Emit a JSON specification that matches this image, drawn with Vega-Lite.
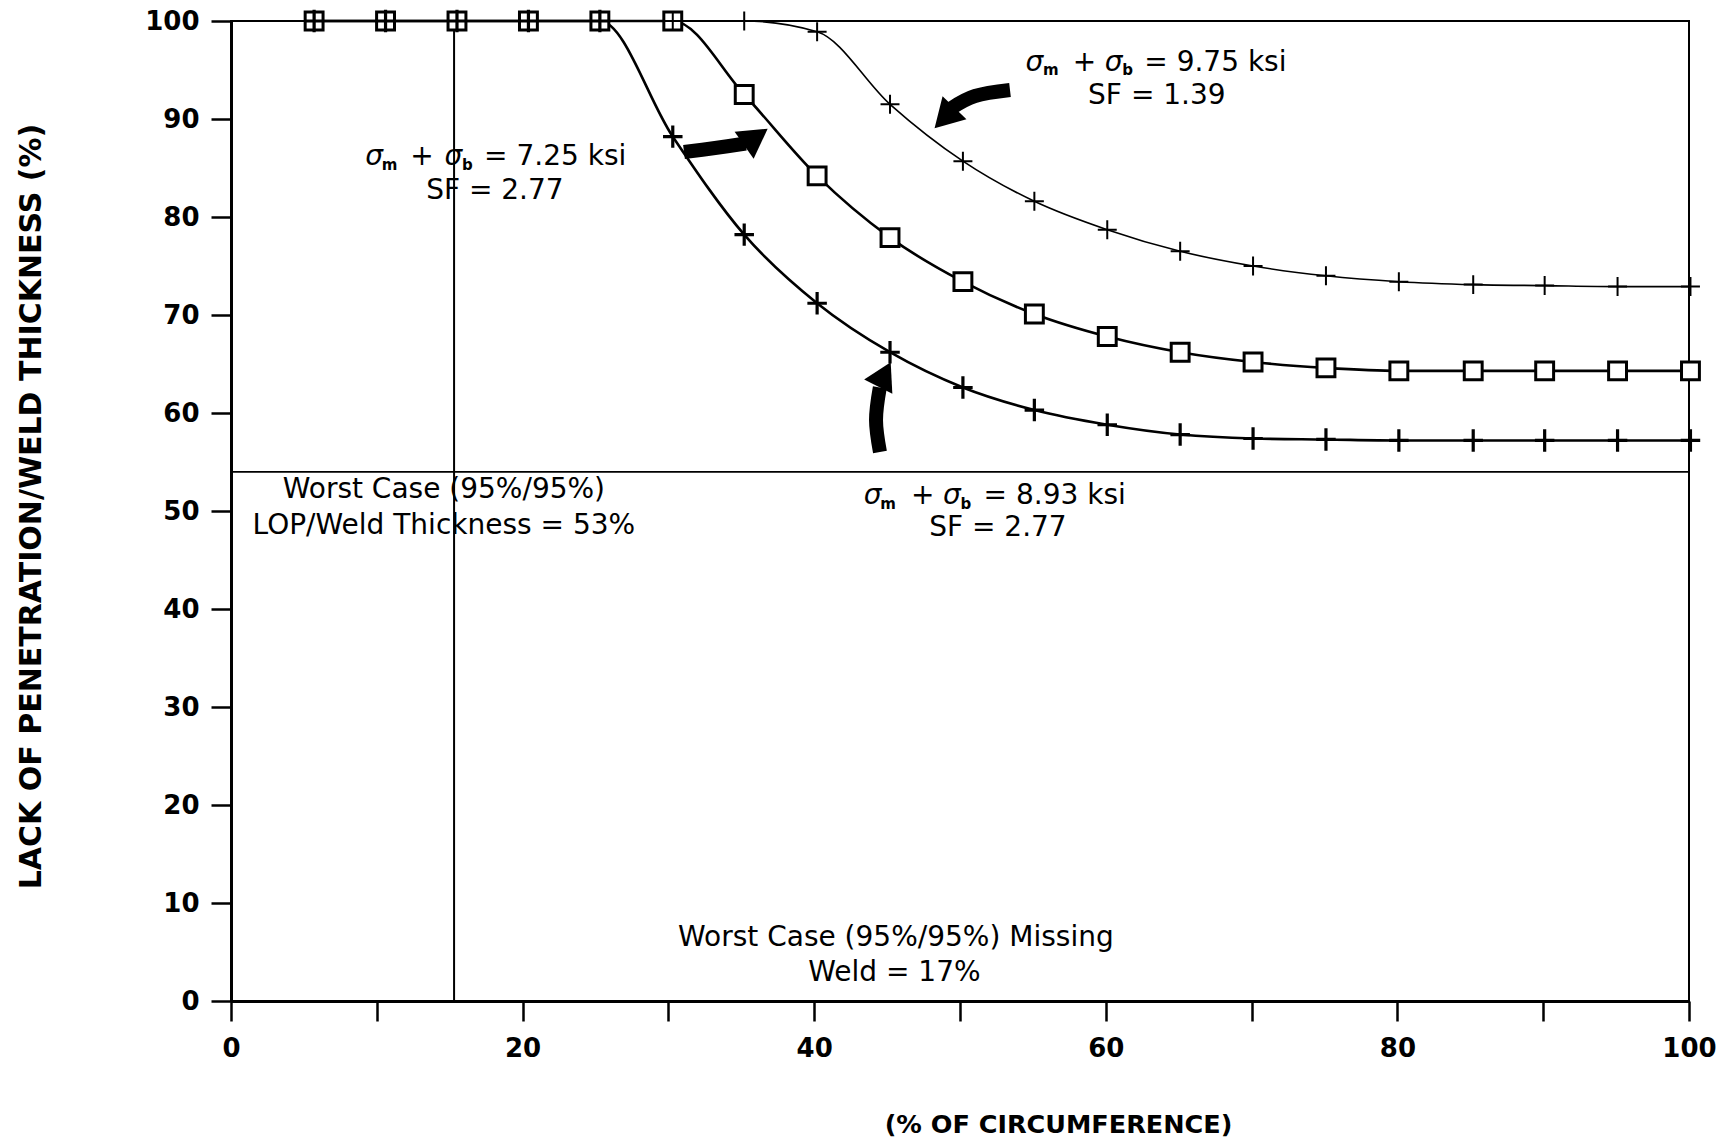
{
  "$schema": "https://vega.github.io/schema/vega-lite/v6.json",
  "width": 1458,
  "height": 980,
  "autosize": "none",
  "padding": {"left": 231, "top": 21, "right": 36, "bottom": 142},
  "background": "white",
  "config": {
    "view": {"stroke": "black", "strokeWidth": 2},
    "font": "DejaVu Sans",
    "axis": {
      "grid": false,
      "domainColor": "black",
      "domainWidth": 3,
      "tickColor": "black",
      "tickWidth": 2.5,
      "tickSize": 20,
      "labelColor": "black",
      "labelFont": "DejaVu Sans",
      "labelFontWeight": "bold",
      "labelFontSize": 26,
      "labelFlush": false,
      "titleColor": "black",
      "titleFont": "DejaVu Sans",
      "titleFontWeight": "bold"
    }
  },
  "datasets": {
    "curves": [
      {"series": "7.25", "x": 5.7, "y": 100}, {"series": "7.25", "x": 10.6, "y": 100}, {"series": "7.25", "x": 15.5, "y": 100},
      {"series": "7.25", "x": 20.4, "y": 100}, {"series": "7.25", "x": 25.3, "y": 100}, {"series": "7.25", "x": 30.3, "y": 100},
      {"series": "7.25", "x": 35.2, "y": 92.5}, {"series": "7.25", "x": 40.2, "y": 84.2}, {"series": "7.25", "x": 45.2, "y": 77.9},
      {"series": "7.25", "x": 50.2, "y": 73.4}, {"series": "7.25", "x": 55.1, "y": 70.1}, {"series": "7.25", "x": 60.1, "y": 67.8},
      {"series": "7.25", "x": 65.1, "y": 66.2}, {"series": "7.25", "x": 70.1, "y": 65.2}, {"series": "7.25", "x": 75.1, "y": 64.6},
      {"series": "7.25", "x": 80.1, "y": 64.3}, {"series": "7.25", "x": 85.2, "y": 64.3}, {"series": "7.25", "x": 90.1, "y": 64.3},
      {"series": "7.25", "x": 95.1, "y": 64.3}, {"series": "7.25", "x": 100.1, "y": 64.3},
      {"series": "8.93", "x": 5.7, "y": 100}, {"series": "8.93", "x": 10.6, "y": 100}, {"series": "8.93", "x": 15.5, "y": 100},
      {"series": "8.93", "x": 20.4, "y": 100}, {"series": "8.93", "x": 25.3, "y": 100}, {"series": "8.93", "x": 30.3, "y": 88.2},
      {"series": "8.93", "x": 35.2, "y": 78.2}, {"series": "8.93", "x": 40.2, "y": 71.2}, {"series": "8.93", "x": 45.2, "y": 66.2},
      {"series": "8.93", "x": 50.2, "y": 62.6}, {"series": "8.93", "x": 55.1, "y": 60.3}, {"series": "8.93", "x": 60.1, "y": 58.8},
      {"series": "8.93", "x": 65.1, "y": 57.8}, {"series": "8.93", "x": 70.1, "y": 57.4}, {"series": "8.93", "x": 75.1, "y": 57.3},
      {"series": "8.93", "x": 80.1, "y": 57.2}, {"series": "8.93", "x": 85.2, "y": 57.2}, {"series": "8.93", "x": 90.1, "y": 57.2},
      {"series": "8.93", "x": 95.1, "y": 57.2}, {"series": "8.93", "x": 100.1, "y": 57.2},
      {"series": "9.75", "x": 5.7, "y": 100}, {"series": "9.75", "x": 10.6, "y": 100}, {"series": "9.75", "x": 15.5, "y": 100},
      {"series": "9.75", "x": 20.4, "y": 100}, {"series": "9.75", "x": 25.3, "y": 100}, {"series": "9.75", "x": 30.3, "y": 100},
      {"series": "9.75", "x": 35.2, "y": 100}, {"series": "9.75", "x": 40.2, "y": 98.9}, {"series": "9.75", "x": 45.2, "y": 91.5},
      {"series": "9.75", "x": 50.2, "y": 85.7}, {"series": "9.75", "x": 55.1, "y": 81.6}, {"series": "9.75", "x": 60.1, "y": 78.7},
      {"series": "9.75", "x": 65.1, "y": 76.5}, {"series": "9.75", "x": 70.1, "y": 75.0}, {"series": "9.75", "x": 75.1, "y": 74.0},
      {"series": "9.75", "x": 80.1, "y": 73.4}, {"series": "9.75", "x": 85.2, "y": 73.1}, {"series": "9.75", "x": 90.1, "y": 73.0},
      {"series": "9.75", "x": 95.1, "y": 72.9}, {"series": "9.75", "x": 100.1, "y": 72.9}
    ],
    "vref": [{"x": 15.3}],
    "href": [{"y": 54}],
    "arrows": [
      {"arrow": "a975", "i": 0, "x": 53.43, "y": 92.96},
      {"arrow": "a975", "i": 1, "x": 51.03, "y": 92.35},
      {"arrow": "a975", "i": 2, "x": 49.4, "y": 91.1},
      {"arrow": "a725", "i": 0, "x": 31.07, "y": 86.63},
      {"arrow": "a725", "i": 1, "x": 33.2, "y": 87.04},
      {"arrow": "a725", "i": 2, "x": 35.3, "y": 87.5},
      {"arrow": "a893", "i": 0, "x": 44.51, "y": 56.02},
      {"arrow": "a893", "i": 1, "x": 44.24, "y": 59.29},
      {"arrow": "a893", "i": 2, "x": 44.5, "y": 62.6}
    ],
    "heads": [
      {"arrow": "a975", "x": 48.94, "y": 90.1},
      {"arrow": "a725", "x": 36.0, "y": 88.16},
      {"arrow": "a893", "x": 44.82, "y": 63.93}
    ],
    "notes": [
      {"role": "center", "x": 18.1, "y": 82.7, "text": "SF = 2.77"},
      {"role": "center", "x": 63.5, "y": 92.3, "text": "SF = 1.39"},
      {"role": "center", "x": 52.6, "y": 48.3, "text": "SF = 2.77"},
      {"role": "center", "x": 14.6, "y": 52.1, "text": "Worst Case (95%/95%)"},
      {"role": "center", "x": 14.6, "y": 48.5, "text": "LOP/Weld Thickness = 53%"},
      {"role": "center", "x": 45.6, "y": 6.4, "text": "Worst Case (95%/95%) Missing"},
      {"role": "center", "x": 45.5, "y": 2.9, "text": "Weld = 17%"},
      {"role": "sigma", "x": 9.21, "y": 86.1, "text": "σ"},
      {"role": "sub", "x": 10.34, "y": 85.3, "text": "m"},
      {"role": "left", "x": 12.3, "y": 86.1, "text": "+"},
      {"role": "sigma", "x": 14.64, "y": 86.1, "text": "σ"},
      {"role": "sub", "x": 15.85, "y": 85.3, "text": "b"},
      {"role": "left", "x": 17.36, "y": 86.1, "text": "= 7.25 ksi"},
      {"role": "sigma", "x": 54.49, "y": 95.74, "text": "σ"},
      {"role": "sub", "x": 55.7, "y": 94.95, "text": "m"},
      {"role": "left", "x": 57.74, "y": 95.74, "text": "+"},
      {"role": "sigma", "x": 59.92, "y": 95.74, "text": "σ"},
      {"role": "sub", "x": 61.13, "y": 94.95, "text": "b"},
      {"role": "left", "x": 62.64, "y": 95.74, "text": "= 9.75 ksi"},
      {"role": "sigma", "x": 43.4, "y": 51.52, "text": "σ"},
      {"role": "sub", "x": 44.53, "y": 50.73, "text": "m"},
      {"role": "left", "x": 46.64, "y": 51.52, "text": "+"},
      {"role": "sigma", "x": 48.83, "y": 51.52, "text": "σ"},
      {"role": "sub", "x": 50.04, "y": 50.73, "text": "b"},
      {"role": "left", "x": 51.62, "y": 51.52, "text": "= 8.93 ksi"}
    ]
  },
  "encoding": {
    "x": {
      "field": "x", "type": "quantitative",
      "scale": {"domain": [0, 100], "nice": false, "zero": false},
      "axis": {
        "title": "(% OF CIRCUMFERENCE)",
        "titleFontSize": 25.5,
        "values": [0, 10, 20, 30, 40, 50, 60, 70, 80, 90, 100],
        "labelExpr": "datum.value % 20 == 0 ? datum.label : ''",
        "labelPadding": 14,
        "titleX": 827,
        "titleY": 123,
        "titleAlign": "center",
        "titleBaseline": "middle"
      }
    },
    "y": {
      "field": "y", "type": "quantitative",
      "scale": {"domain": [0, 100], "nice": false, "zero": false},
      "axis": {
        "title": "LACK OF PENETRATION/WELD THICKNESS (%)",
        "titleFontSize": 30,
        "values": [0, 10, 20, 30, 40, 50, 60, 70, 80, 90, 100],
        "labelPadding": 12,
        "titleX": -200,
        "titleY": 485,
        "titleAngle": -90,
        "titleAlign": "center",
        "titleBaseline": "middle"
      }
    }
  },
  "layer": [
    {
      "data": {"name": "vref"},
      "mark": {"type": "rule", "color": "black", "strokeWidth": 2},
      "encoding": {"y": null}
    },
    {
      "data": {"name": "href"},
      "mark": {"type": "rule", "color": "black", "strokeWidth": 1.8},
      "encoding": {"x": null}
    },
    {
      "data": {"name": "curves"},
      "transform": [{"filter": "datum.series == '9.75'"}],
      "mark": {"type": "line", "color": "black", "strokeWidth": 1.6, "interpolate": "monotone"},
      "encoding": {"order": {"field": "x", "type": "quantitative"}}
    },
    {
      "data": {"name": "curves"},
      "transform": [{"filter": "datum.series != '9.75'"}],
      "mark": {"type": "line", "color": "black", "strokeWidth": 2.6, "interpolate": "monotone"},
      "encoding": {"detail": {"field": "series"}, "order": {"field": "x", "type": "quantitative"}}
    },
    {
      "data": {"name": "curves"},
      "transform": [{"filter": "datum.series == '7.25'"}],
      "mark": {"type": "point", "shape": "square", "filled": true, "fill": "white", "fillOpacity": 1, "stroke": "black", "strokeWidth": 3, "size": 320, "opacity": 1}
    },
    {
      "data": {"name": "curves"},
      "transform": [{"filter": "datum.series == '8.93'"}],
      "mark": {"type": "point", "shape": "M-1,0L1,0M0,-1.15L0,1.15", "filled": false, "stroke": "black", "strokeWidth": 3.2, "size": 380, "opacity": 1}
    },
    {
      "data": {"name": "curves"},
      "transform": [{"filter": "datum.series == '9.75'"}],
      "mark": {"type": "point", "shape": "M-1,0L1,0M0,-1L0,1", "filled": false, "stroke": "black", "strokeWidth": 2, "size": 360, "opacity": 1}
    },
    {
      "data": {"name": "arrows"},
      "mark": {"type": "line", "color": "black", "strokeWidth": 14, "interpolate": "cardinal", "strokeCap": "butt"},
      "encoding": {"detail": {"field": "arrow"}, "order": {"field": "i", "type": "quantitative"}}
    },
    {
      "data": {"name": "heads"},
      "transform": [{"filter": "datum.arrow == 'a975'"}],
      "mark": {"type": "point", "shape": "triangle-up", "filled": true, "color": "black", "size": 1100, "angle": 224, "opacity": 1}
    },
    {
      "data": {"name": "heads"},
      "transform": [{"filter": "datum.arrow == 'a725'"}],
      "mark": {"type": "point", "shape": "triangle-up", "filled": true, "color": "black", "size": 1100, "angle": 55, "opacity": 1}
    },
    {
      "data": {"name": "heads"},
      "transform": [{"filter": "datum.arrow == 'a893'"}],
      "mark": {"type": "point", "shape": "triangle-up", "filled": true, "color": "black", "size": 1000, "angle": 27, "opacity": 1}
    },
    {
      "data": {"name": "notes"},
      "transform": [{"filter": "datum.role == 'center'"}],
      "mark": {"type": "text", "font": "DejaVu Sans", "fontSize": 28, "color": "black", "align": "center", "baseline": "middle"},
      "encoding": {"text": {"field": "text"}}
    },
    {
      "data": {"name": "notes"},
      "transform": [{"filter": "datum.role == 'left'"}],
      "mark": {"type": "text", "font": "DejaVu Sans", "fontSize": 28, "color": "black", "align": "left", "baseline": "middle"},
      "encoding": {"text": {"field": "text"}}
    },
    {
      "data": {"name": "notes"},
      "transform": [{"filter": "datum.role == 'sigma'"}],
      "mark": {"type": "text", "font": "DejaVu Sans", "fontSize": 28, "fontStyle": "italic", "color": "black", "align": "left", "baseline": "middle"},
      "encoding": {"text": {"field": "text"}}
    },
    {
      "data": {"name": "notes"},
      "transform": [{"filter": "datum.role == 'sub'"}],
      "mark": {"type": "text", "font": "DejaVu Sans", "fontSize": 15, "fontWeight": "bold", "color": "black", "align": "left", "baseline": "middle"},
      "encoding": {"text": {"field": "text"}}
    }
  ]
}
